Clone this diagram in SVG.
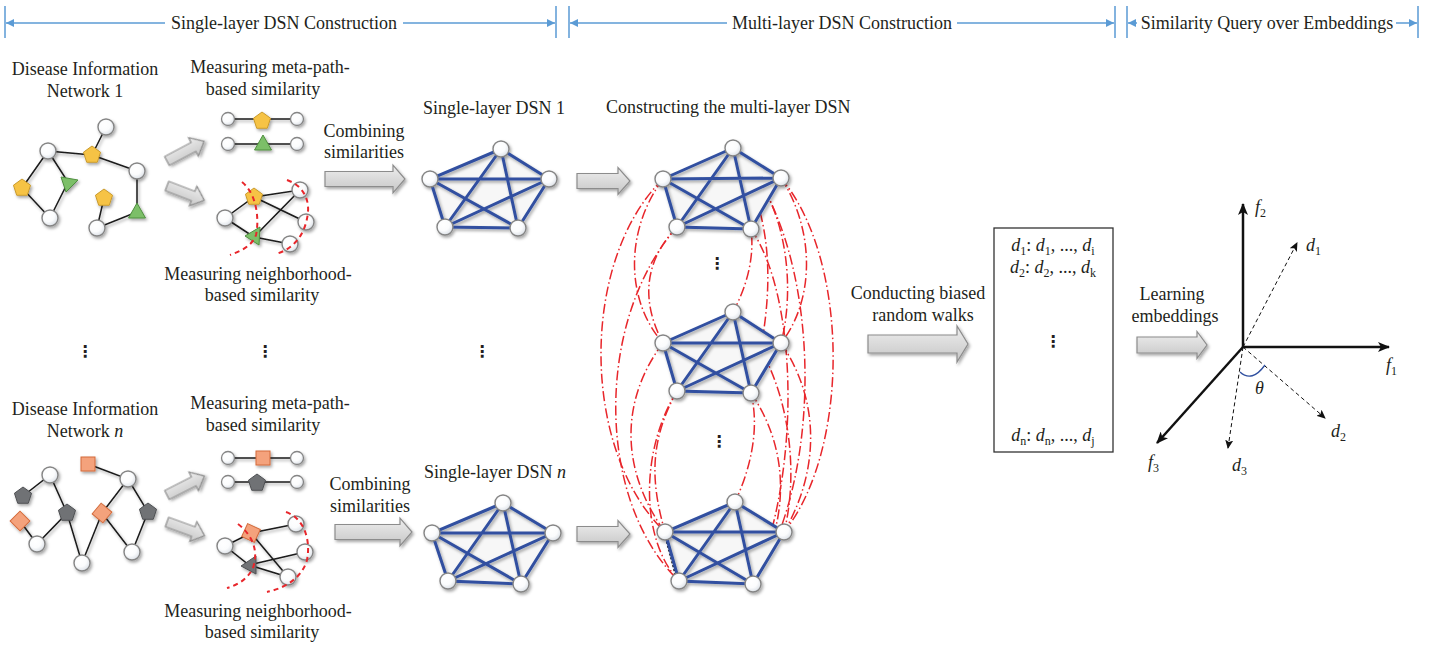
<svg xmlns="http://www.w3.org/2000/svg" xmlns:xlink="http://www.w3.org/1999/xlink" width="1439" height="648" viewBox="0 0 1439 648">
<style>
text{font-family:"Liberation Serif","Times New Roman",serif;font-size:18px;fill:#231f20}
.c{text-anchor:middle}
.i{font-style:italic}
.e{stroke:#1a1a1a;stroke-width:1.5;fill:none}
.b{stroke:#3050a0;stroke-width:3;fill:none;stroke-linecap:round}
.rd{fill:none;stroke:#e8262b;stroke-width:1.5;stroke-dasharray:10 3 1.5 3}
.rs{fill:none;stroke:#e8262b;stroke-width:2;stroke-dasharray:5 4}
.ga{fill:url(#gg);stroke:#8c8c8c;stroke-width:1.2;filter:url(#sh)}
.hl{stroke:#5b9bd5;stroke-width:1.5;fill:none}
.ax{stroke:#111;stroke-width:2.5;fill:none}
.dv{stroke:#111;stroke-width:1;stroke-dasharray:4 3;fill:none}
.dot{font-family:"DejaVu Sans",sans-serif;font-size:16px;font-weight:bold;text-anchor:middle}
.bg{fill:#f7f7f7;stroke:none}
</style>
<defs>
<radialGradient id="gw" cx="0.4" cy="0.35" r="0.75">
<stop offset="0" stop-color="#ffffff"/><stop offset="0.5" stop-color="#fbfcfd"/><stop offset="1" stop-color="#d3d9e1"/>
</radialGradient>
<linearGradient id="gg" x1="0" y1="0" x2="0" y2="1">
<stop offset="0" stop-color="#eeeeee"/><stop offset="1" stop-color="#c6c6c6"/>
</linearGradient>
<filter id="sh" x="-50%" y="-50%" width="200%" height="200%">
<feDropShadow dx="1.5" dy="2" stdDeviation="1.5" flood-color="#000" flood-opacity="0.35"/>
</filter>
<circle id="wn" r="8" fill="url(#gw)" stroke="#858585" stroke-width="1.4"/>
<circle id="ws" r="6.5" fill="url(#gw)" stroke="#858585" stroke-width="1.3"/>
<path id="py" d="M0,-9 L8.56,-2.78 L5.29,7.28 L-5.29,7.28 L-8.56,-2.78Z" fill="#f6c344" stroke="#c99a2e" stroke-width="1"/>
<path id="pg" d="M0,-9 L8.56,-2.78 L5.29,7.28 L-5.29,7.28 L-8.56,-2.78Z" fill="#707275" stroke="#4f5154" stroke-width="1"/>
<path id="tg" d="M0,-9 L8.5,6 L-8.5,6Z" fill="#7cbf68" stroke="#4f8f3f" stroke-width="1"/>
<rect id="so" x="-7" y="-7" width="14" height="14" fill="#f4a27c" stroke="#d36a3a" stroke-width="1"/>
<marker id="bh" viewBox="0 0 8 8" refX="8" refY="4" markerWidth="8" markerHeight="8" orient="auto" markerUnits="userSpaceOnUse">
<path d="M0,0 L8,4 L0,8 z" fill="#5b9bd5"/>
</marker>
<marker id="ah" viewBox="0 0 12 10" refX="11" refY="5" markerWidth="12" markerHeight="10" orient="auto" markerUnits="userSpaceOnUse">
<path d="M0,0 L12,5 L0,10 L3,5 z" fill="#111"/>
</marker>
<marker id="dh" viewBox="0 0 9 8" refX="8" refY="4" markerWidth="9" markerHeight="8" orient="auto" markerUnits="userSpaceOnUse">
<path d="M0,0 L9,4 L0,8 L2,4 z" fill="#111"/>
</marker>
</defs>
<rect width="1439" height="648" fill="#ffffff"/>

<!-- header -->
<g id="header">
<path class="hl" d="M5,6 V38 M556,6 V38 M569,6 V38 M1115,6 V38 M1127,6 V38 M1418,6 V38"/>
<path class="hl" marker-end="url(#bh)" d="M165,23 L6,23"/>
<path class="hl" marker-end="url(#bh)" d="M403,23 L555,23"/>
<path class="hl" marker-end="url(#bh)" d="M727,23 L570,23"/>
<path class="hl" marker-end="url(#bh)" d="M957,23 L1114,23"/>
<path class="hl" marker-end="url(#bh)" d="M1137,23 L1128,23"/>
<path class="hl" marker-end="url(#bh)" d="M1396,23 L1417,23"/>
<text class="c" x="284" y="29">Single-layer DSN Construction</text>
<text class="c" x="842" y="29">Multi-layer DSN Construction</text>
<text class="c" x="1267" y="29">Similarity Query over Embeddings</text>
</g>

<!-- connectors -->
<g id="connectors">
<path class="ga" transform="translate(167,161) rotate(-28)" d="M0,-5 H30 V-10.5 L42,0 L30,10.5 V5 H0Z"/>
<path class="ga" transform="translate(167,186) rotate(21)" d="M0,-5 H28 V-10.5 L40,0 L28,10.5 V5 H0Z"/>
<path class="ga" transform="translate(167,495) rotate(-27)" d="M0,-5 H30 V-10.5 L42,0 L30,10.5 V5 H0Z"/>
<path class="ga" transform="translate(167,522) rotate(20)" d="M0,-5 H28 V-10.5 L40,0 L28,10.5 V5 H0Z"/>
<path class="ga" transform="translate(325,179)" d="M0,-7.5 H68 V-14 L80,0 L68,14 V7.5 H0Z"/>
<path class="ga" transform="translate(335,532)" d="M0,-7.5 H65 V-14 L77,0 L65,14 V7.5 H0Z"/>
<path class="ga" transform="translate(577,181)" d="M0,-7.5 H41 V-13.5 L53,0 L41,13.5 V7.5 H0Z"/>
<path class="ga" transform="translate(577,534)" d="M0,-7.5 H41 V-13.5 L53,0 L41,13.5 V7.5 H0Z"/>
<path class="ga" transform="translate(868,344)" d="M0,-9 H89 V-18 L100,0 L89,18 V9 H0Z"/>
<path class="ga" transform="translate(1137,345)" d="M0,-8 H60 V-13.5 L70,0 L60,13.5 V8 H0Z"/>
<!-- inter-layer red links -->
<path class="rd" d="M663,179 C580,260 580,450 665,532"/>
<path class="rd" d="M677,227 C595,320 595,500 679,581"/>
<path class="rd" d="M663,179 C625,230 625,300 663,343"/>
<path class="rd" d="M677,227 C645,260 640,300 663,343"/>
<path class="rd" d="M663,343 C620,400 620,470 665,532"/>
<path class="rd" d="M677,391 C650,440 650,480 665,532"/>
<path class="rd" d="M677,391 C640,450 640,540 679,581"/>
<path class="rd" d="M781,178 C850,260 850,450 784,532"/>
<path class="rd" d="M733,148 C820,230 830,470 753,584"/>
<path class="rd" d="M733,148 C790,200 795,290 781,343"/>
<path class="rd" d="M733,148 C770,210 780,280 751,393"/>
<path class="rd" d="M781,178 C815,230 815,300 781,343"/>
<path class="rd" d="M781,343 C820,400 820,470 784,532"/>
<path class="rd" d="M733,312 C745,290 755,260 751,229"/>
<path class="rd" d="M735,502 C750,470 760,430 751,393"/>
<path class="rd" d="M751,229 C800,300 800,480 753,584"/>
<path class="rd" d="M733,312 C790,370 800,470 784,532"/>
<path class="rd" d="M751,393 C790,450 790,520 753,584"/>
<path d="M666,538 L676,576" stroke="#111" stroke-width="2.2" stroke-dasharray="2 2" fill="none"/>
</g>

<!-- Disease information network 1 -->
<g id="din1">
<text class="c" x="85" y="75">Disease Information</text>
<text class="c" x="85" y="97">Network 1</text>
<g filter="url(#sh)">
<path class="e" d="M106,127 L92,155 M48,151 L92,155 L137,171 M48,151 L22,188 L50,218 L68,182 L48,151 M137,171 L137,212 L97,228 L104,198"/>
<use href="#wn" x="106" y="127"/>
<use href="#wn" x="48" y="151"/>
<use href="#wn" x="137" y="171"/>
<use href="#wn" x="50" y="218"/>
<use href="#wn" x="97" y="228"/>
<use href="#py" x="92" y="155"/>
<use href="#py" x="22" y="188"/>
<use href="#py" x="104" y="198"/>
<polygon points="61,177 78,180 66,192" fill="#7cbf68" stroke="#4f8f3f" stroke-width="1"/>
<use href="#tg" x="137" y="212"/>
</g>
</g>

<!-- meta-path similarity 1 -->
<g id="meta1">
<text class="c" x="270" y="73">Measuring meta-path-</text>
<text class="c" x="263" y="95">based similarity</text>
<g filter="url(#sh)">
<path class="e" d="M228,119 H297 M228,144 H297"/>
<use href="#ws" x="228" y="119"/>
<use href="#ws" x="297" y="119"/>
<use href="#ws" x="228" y="144"/>
<use href="#ws" x="297" y="144"/>
<use href="#py" x="262" y="121"/>
<use href="#tg" x="263" y="144"/>
</g>
</g>

<!-- neighborhood similarity 1 -->
<g id="nbr1">
<g filter="url(#sh)">
<path class="e" d="M225,218 L254,197 L300,190 L254,237 L225,218 M254,197 L306,222 M254,237 L290,244"/>
<use href="#wn" x="300" y="190"/>
<use href="#wn" x="225" y="218"/>
<use href="#wn" x="306" y="222"/>
<use href="#wn" x="290" y="244"/>
<use href="#py" x="254" y="197"/>
<polygon points="245,236 260,227 259,245" fill="#7cbf68" stroke="#4f8f3f" stroke-width="1"/>
</g>
<path class="rs" d="M242,182 C258,195 259,222 256,235 C252,246 241,251 230,255"/>
<path class="rs" d="M287,180 C304,186 309,200 308,212 C306,232 296,248 276,254"/>
<text class="c" x="258" y="280">Measuring neighborhood-</text>
<text class="c" x="262" y="301">based similarity</text>
</g>

<!-- combining 1 -->
<g id="comb1">
<text class="c" x="364" y="137">Combining</text>
<text class="c" x="364" y="158">similarities</text>
</g>

<!-- single layer DSN 1 -->
<g id="dsn1">
<text class="c" x="494" y="114">Single-layer DSN 1</text>
<polygon class="bg" points="501,149 549,179 518,228 445,227 430,179"/>
<g filter="url(#sh)">
<path class="b" d="M501,149 L430,179 L445,227 L518,228 L549,179 Z M501,149 L445,227 M501,149 L518,228 M430,179 L549,179 M430,179 L518,228 M445,227 L549,179"/>
<use href="#wn" x="501" y="149"/>
<use href="#wn" x="430" y="179"/>
<use href="#wn" x="549" y="179"/>
<use href="#wn" x="445" y="227"/>
<use href="#wn" x="518" y="228"/>
</g>
</g>

<!-- dots between -->
<g id="vdots">
<text class="dot" x="85" y="357">⋮</text>
<text class="dot" x="265" y="357">⋮</text>
<text class="dot" x="482" y="357">⋮</text>
<text class="dot" x="717" y="269">⋮</text>
<text class="dot" x="719" y="447">⋮</text>
</g>

<!-- Disease information network n -->
<g id="dinn">
<text class="c" x="85" y="415">Disease Information</text>
<text class="c" x="85" y="437">Network <tspan class="i">n</tspan></text>
<g filter="url(#sh)">
<path class="e" d="M88,464 L128,479 L148,512 L132,552 L102,513 L128,479 M23,496 L50,475 L67,513 L37,544 L20,521 M67,513 L82,563 L102,513"/>
<use href="#wn" x="128" y="479"/>
<use href="#wn" x="50" y="475"/>
<use href="#wn" x="37" y="544"/>
<use href="#wn" x="132" y="552"/>
<use href="#wn" x="82" y="563"/>
<use href="#pg" x="23" y="496"/>
<use href="#pg" x="67" y="513"/>
<use href="#pg" x="148" y="512"/>
<use href="#so" x="88" y="464"/>
<use href="#so" transform="translate(102,513) rotate(40)"/>
<use href="#so" transform="translate(20,521) rotate(45)"/>
</g>
</g>

<!-- meta-path similarity n -->
<g id="metan">
<text class="c" x="270" y="409">Measuring meta-path-</text>
<text class="c" x="263" y="431">based similarity</text>
<g filter="url(#sh)">
<path class="e" d="M228,458 H297 M228,482 H297"/>
<use href="#ws" x="228" y="458"/>
<use href="#ws" x="297" y="458"/>
<use href="#ws" x="228" y="482"/>
<use href="#ws" x="297" y="482"/>
<use href="#so" x="263" y="458"/>
<use href="#pg" x="257" y="483"/>
</g>
</g>

<!-- neighborhood similarity n -->
<g id="nbrn">
<g filter="url(#sh)">
<path class="e" d="M225,546 L251,533 L296,524 M251,533 L288,577 L249,565 L225,546 M249,565 L305,552"/>
<use href="#wn" x="296" y="524"/>
<use href="#wn" x="225" y="546"/>
<use href="#wn" x="305" y="552"/>
<use href="#wn" x="288" y="577"/>
<use href="#so" transform="translate(251,533) rotate(25)"/>
<polygon points="241,566 256,556 256,574" fill="#707275" stroke="#4f5154" stroke-width="1"/>
</g>
<path class="rs" d="M238,524 C252,535 259,550 253,568 C247,580 237,585 227,588"/>
<path class="rs" d="M286,512 C304,518 311,540 307,560 C302,578 285,588 267,592"/>
<text class="c" x="258" y="617">Measuring neighborhood-</text>
<text class="c" x="262" y="638">based similarity</text>
</g>

<!-- combining n -->
<g id="combn">
<text class="c" x="370" y="490">Combining</text>
<text class="c" x="370" y="512">similarities</text>
</g>

<!-- single layer DSN n -->
<g id="dsnn">
<text class="c" x="495" y="478">Single-layer DSN <tspan class="i">n</tspan></text>
<polygon class="bg" points="503,503 553,533 521,584 448,581 432,533"/>
<g filter="url(#sh)">
<path class="b" d="M503,503 L432,533 L448,581 L521,584 L553,533 Z M503,503 L448,581 M503,503 L521,584 M432,533 L553,533 M432,533 L521,584 M448,581 L553,533"/>
<use href="#wn" x="503" y="503"/>
<use href="#wn" x="432" y="533"/>
<use href="#wn" x="553" y="533"/>
<use href="#wn" x="448" y="581"/>
<use href="#wn" x="521" y="584"/>
</g>
</g>

<!-- multi-layer DSN -->
<g id="multilayer">
<text x="606" y="113">Constructing the multi-layer DSN</text>
<g id="layer1">
<polygon class="bg" points="733,148 781,178 751,229 677,227 663,179"/>
<g filter="url(#sh)">
<path class="b" d="M733,148 L663,179 L677,227 L751,229 L781,178 Z M733,148 L677,227 M733,148 L751,229 M663,179 L781,178 M663,179 L751,229 M677,227 L781,178"/>
<use href="#wn" x="733" y="148"/>
<use href="#wn" x="663" y="179"/>
<use href="#wn" x="781" y="178"/>
<use href="#wn" x="677" y="227"/>
<use href="#wn" x="751" y="229"/>
</g>
</g>
<g id="layer2">
<polygon class="bg" points="733,312 781,343 751,393 677,391 663,343"/>
<g filter="url(#sh)">
<path class="b" d="M733,312 L663,343 L677,391 L751,393 L781,343 Z M733,312 L677,391 M733,312 L751,393 M663,343 L781,343 M663,343 L751,393 M677,391 L781,343"/>
<use href="#wn" x="733" y="312"/>
<use href="#wn" x="663" y="343"/>
<use href="#wn" x="781" y="343"/>
<use href="#wn" x="677" y="391"/>
<use href="#wn" x="751" y="393"/>
</g>
</g>
<g id="layer3">
<polygon class="bg" points="735,502 784,532 753,584 679,581 665,532"/>
<g filter="url(#sh)">
<path class="b" d="M735,502 L665,532 L679,581 L753,584 L784,532 Z M735,502 L679,581 M735,502 L753,584 M665,532 L784,532 M665,532 L753,584 M679,581 L784,532"/>
<use href="#wn" x="735" y="502"/>
<use href="#wn" x="665" y="532"/>
<use href="#wn" x="784" y="532"/>
<use href="#wn" x="679" y="581"/>
<use href="#wn" x="753" y="584"/>
</g>
</g>
</g>

<!-- random walks -->
<g id="walks">
<text class="c" x="918" y="299">Conducting biased</text>
<text class="c" x="923" y="321">random walks</text>
</g>

<!-- walk sequences box -->
<g id="sequences">
<rect x="994" y="228" width="119" height="224" fill="#ffffff" stroke="#333" stroke-width="1.3"/>
<text class="c" x="1053" y="251"><tspan class="i">d</tspan><tspan font-size="12" dy="4">1</tspan><tspan dy="-4">: </tspan><tspan class="i">d</tspan><tspan font-size="12" dy="4">1</tspan><tspan dy="-4">, ..., </tspan><tspan class="i">d</tspan><tspan font-size="12" dy="4">i</tspan></text>
<text class="c" x="1053" y="273"><tspan class="i">d</tspan><tspan font-size="12" dy="4">2</tspan><tspan dy="-4">: </tspan><tspan class="i">d</tspan><tspan font-size="12" dy="4">2</tspan><tspan dy="-4">, ..., </tspan><tspan class="i">d</tspan><tspan font-size="12" dy="4">k</tspan></text>
<text class="dot" x="1053" y="347">⋮</text>
<text class="c" x="1053" y="441"><tspan class="i">d</tspan><tspan font-size="12" dy="4">n</tspan><tspan dy="-4">: </tspan><tspan class="i">d</tspan><tspan font-size="12" dy="4">n</tspan><tspan dy="-4">, ..., </tspan><tspan class="i">d</tspan><tspan font-size="12" dy="4">j</tspan></text>
</g>

<!-- learning -->
<g id="learning">
<text class="c" x="1172" y="300">Learning</text>
<text class="c" x="1175" y="322">embeddings</text>
</g>

<!-- embedding space -->
<g id="embedding">
<path class="ax" marker-end="url(#ah)" d="M1243,347 L1243,204"/>
<path class="ax" marker-end="url(#ah)" d="M1243,347 L1389,347"/>
<path class="ax" marker-end="url(#ah)" d="M1243,347 L1157,443"/>
<path class="dv" marker-end="url(#dh)" d="M1243,347 L1297,243"/>
<path class="dv" marker-end="url(#dh)" d="M1243,347 L1325,418"/>
<path class="dv" marker-end="url(#dh)" d="M1243,347 L1228,448"/>
<path d="M1240,372 Q1252,383 1265,365" fill="none" stroke="#3050a0" stroke-width="1.3"/>
<text class="i" x="1255" y="213">f<tspan font-size="12" dy="4" font-style="normal">2</tspan></text>
<text class="i" x="1386" y="371">f<tspan font-size="12" dy="4" font-style="normal">1</tspan></text>
<text class="i" x="1148" y="468">f<tspan font-size="12" dy="4" font-style="normal">3</tspan></text>
<text class="i" x="1306" y="251">d<tspan font-size="12" dy="4" font-style="normal">1</tspan></text>
<text class="i" x="1331" y="437">d<tspan font-size="12" dy="4" font-style="normal">2</tspan></text>
<text class="i" x="1232" y="471">d<tspan font-size="12" dy="4" font-style="normal">3</tspan></text>
<text class="i" x="1255" y="394" font-size="13">θ</text>
</g>
</svg>
